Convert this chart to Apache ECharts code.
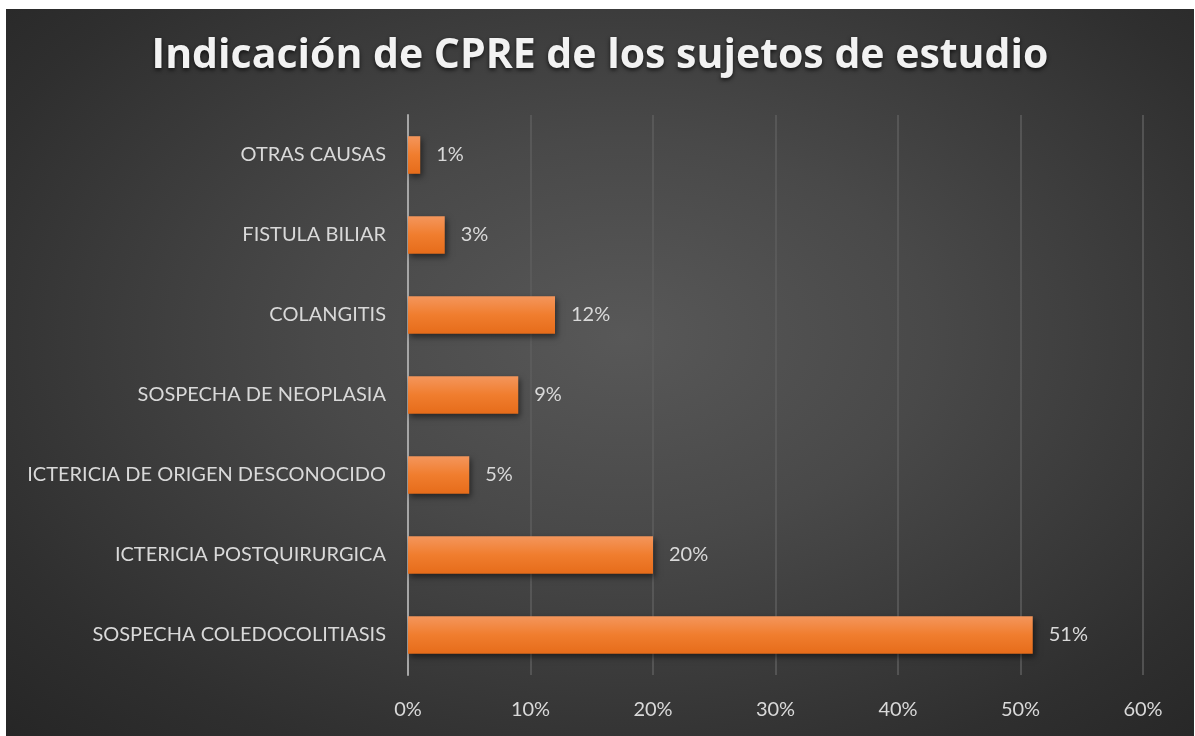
<!DOCTYPE html>
<html>
<head>
	<meta charset="utf-8">
	<title>Indicación de CPRE</title>
	<style>
		body { margin: 0; background: #fff; }
		#chart1 {
			position: absolute; left: 6px; top: 9px; width: 1188px; height: 727px;
			background: radial-gradient(ellipse at 52% 45%, #585858 0%, #494949 35%, #2f2f2f 80%, #262626 100%);
		}
	</style>
</head>
<body>
	<div id="chart1"></div>

	<script src="https://cdn.jsdelivr.net/npm/echarts@6/dist/echarts.min.js"></script>
	<script>
	// 数据：从下往上
	var categories = ['SOSPECHA COLEDOCOLITIASIS', 'ICTERICIA POSTQUIRURGICA', 'ICTERICIA DE ORIGEN DESCONOCIDO',
		'SOSPECHA DE NEOPLASIA', 'COLANGITIS', 'FISTULA BILIAR', 'OTRAS CAUSAS'];
	var values = [0.51, 0.20, 0.05, 0.09, 0.12, 0.03, 0.01];
	var xTicks = [0, 0.1, 0.2, 0.3, 0.4, 0.5, 0.6];

	var font = 'Lato, "Open Sans", sans-serif';
	var myChart = echarts.init(document.getElementById('chart1'));

	var option = {
		title: {
			text: 'Indicación de CPRE de los sujetos de estudio',
			left: 'center',
			top: 22,
			textStyle: {
				color: '#f2f2f2',
				fontFamily: '"Open Sans", sans-serif',
				fontWeight: 'bold',
				fontSize: 41,
				textShadowColor: 'rgba(0,0,0,0.7)',
				textShadowBlur: 4,
				textShadowOffsetY: 2
			}
		},
		grid: { left: 402, right: 51, top: 106, bottom: 61, containLabel: false },
		xAxis: {
			type: 'value',
			min: xTicks[0],
			max: xTicks[xTicks.length - 1],
			interval: 0.1,
			axisLine: { show: false },
			axisTick: { show: false },
			splitLine: { lineStyle: { color: '#5e5e5e', width: 1.5 } },
			axisLabel: {
				color: '#d9d9d9', fontSize: 20, fontFamily: font, margin: 25,
				formatter: function (v) { return Math.round(v * 100) + '%'; }
			}
		},
		yAxis: {
			type: 'category',
			data: categories,
			axisLine: { lineStyle: { color: '#a6a6a6', width: 2 } },
			axisTick: { show: false },
			axisLabel: { color: '#d9d9d9', fontSize: 20, fontFamily: font, margin: 22 }
		},
		series: [{
			type: 'bar',
			data: values,
			barCategoryGap: '53%',
			itemStyle: {
				color: new echarts.graphic.LinearGradient(0, 0, 0, 1, [
					{ offset: 0, color: '#f4965c' },
					{ offset: 0.5, color: '#f07d2e' },
					{ offset: 1, color: '#e66c1a' }
				]),
				shadowColor: 'rgba(0,0,0,0.5)',
				shadowBlur: 6,
				shadowOffsetY: 3,
				shadowOffsetX: 2
			},
			label: {
				show: true,
				position: 'right',
				distance: 16,
				color: '#d9d9d9',
				fontSize: 20,
				fontFamily: font,
				formatter: function (p) { return Math.round(p.value * 100) + '%'; }
			}
		}]
	};

	myChart.setOption(option);
	</script>
</body>
</html>
